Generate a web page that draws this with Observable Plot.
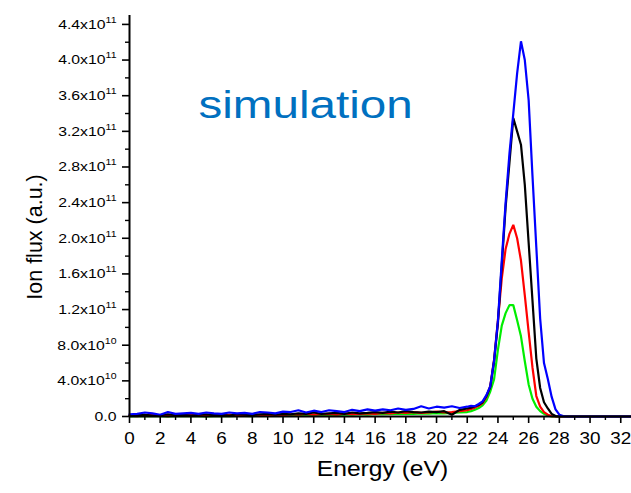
<!DOCTYPE html>
<html><head><meta charset="utf-8">
<script src="https://cdn.jsdelivr.net/npm/d3@7"></script>
<script src="https://cdn.jsdelivr.net/npm/@observablehq/plot@0.6"></script>
<style>
html,body{margin:0;padding:0;background:#fff;}
#chart svg{display:block;}
</style>
</head><body><div id="chart"></div>
<script>
// Energy grid (eV)
const energy = [
  0,0.5,1,1.5,2,2.5,3,3.5,4,4.5,5,5.5,6,6.5,7,7.5,8,8.5,9,9.5,10,10.5,11,11.5,12,12.5,13,13.5,14,14.5,15,15.5,16,16.5,17,17.5,18,18.5,19,19.5,20,20.5,21,21.5,
  22,22.25,22.5,22.75,23,23.25,23.5,23.75,24,24.25,24.5,24.75,25,25.25,25.5,25.75,26,26.25,26.5,26.75,27,27.25,27.5,27.75,28,28.25,28.5,28.75,29,
  29.5,30,30.5,31,31.5,32,32.5,32.7
];
// Ion flux values in units of 1e10 (a.u.)
const fluxBlue = [
  0.25,0.3,0.45,0.35,0.2,0.5,0.3,0.35,0.4,0.3,0.45,0.35,0.3,0.45,0.35,0.4,0.3,0.5,0.45,0.35,0.55,0.5,0.7,0.45,0.65,0.5,0.7,0.6,0.5,0.75,0.6,0.8,0.65,0.8,0.7,0.9,0.75,0.85,1.15,0.9,1.1,1.0,1.15,0.95,
  1.1,1.2,1.15,1.4,1.7,2.4,3.4,6.3,10.8,17.5,24.0,29.5,34.0,38.5,42.1,40.0,35.5,27.0,19.0,11.0,6.0,4.2,2.2,0.8,0.2,0.05,0,0,0,
  0,0,0,0,0,0,0,0
];
const fluxBlack = [
  0.1,0.15,0.2,0.1,0.15,0.25,0.15,0.2,0.1,0.2,0.25,0.15,0.2,0.1,0.25,0.2,0.15,0.25,0.3,0.2,0.3,0.25,0.35,0.3,0.45,0.3,0.35,0.4,0.3,0.45,0.35,0.4,0.5,0.4,0.55,0.45,0.6,0.5,0.45,0.55,0.5,0.6,0.2,0.75,
  0.9,1.0,1.15,1.3,1.6,2.3,3.3,6.2,10.5,17.0,23.5,28.5,33.5,32.0,30.5,26.0,19.5,13.0,6.5,3.2,1.6,0.9,0.3,0.05,0,0,0,0,0,
  0,0,0,0,0,0,0,0
];
const fluxRed = [
  0.1,0.05,0.15,0.25,0.1,0.05,0.15,0.1,0.2,0.1,0.05,0.15,0.1,0.2,0.1,0.15,0.25,0.15,0.1,0.2,0.15,0.25,0.2,0.3,0.2,0.25,0.3,0.2,0.35,0.25,0.3,0.35,0.3,0.4,0.35,0.45,0.4,0.5,0.4,0.45,0.55,0.45,0.5,0.6,
  0.7,0.85,1.0,1.2,1.5,2.2,3.4,6.4,10.8,15.5,18.8,20.5,21.5,20.0,17.5,13.6,9.5,5.5,2.3,1.1,0.5,0.2,0.05,0,0,0,0,0,0,
  0,0,0,0,0,0,0,0
];
const fluxGreen = [
  0.02,0.05,0.03,0.06,0.04,0.02,0.05,0.03,0.06,0.04,0.02,0.05,0.07,0.04,0.06,0.08,0.05,0.1,0.08,0.12,0.1,0.14,0.12,0.15,0.18,0.15,0.2,0.18,0.22,0.2,0.25,0.22,0.28,0.25,0.3,0.28,0.32,0.3,0.35,0.33,0.38,0.35,0.4,0.45,
  0.5,0.6,0.75,0.95,1.25,1.8,2.8,4.2,7.5,10.2,11.6,12.5,12.5,10.8,9.0,6.2,3.6,2.0,1.1,0.6,0.3,0.1,0,0,0,0,0,0,0,
  0,0,0,0,0,0,0,0
];
// drawing order: green, red, black, blue (blue on top)
const seriesNames = ["green","red","black","blue"];
const seriesColors = ["#00ee00","#ff0000","#000000","#0000ff"];
const seriesValues = [fluxGreen, fluxRed, fluxBlack, fluxBlue];

const xMajorTicks = [0,2,4,6,8,10,12,14,16,18,20,22,24,26,28,30,32];
const xMinorTicks = [1,3,5,7,9,11,13,15,17,19,21,23,25,27,29,31];
const yMajorTicks = [0,4e10,8e10,1.2e11,1.6e11,2.0e11,2.4e11,2.8e11,3.2e11,3.6e11,4.0e11,4.4e11];
const yTickMantissa = ["0.0","4.0x10","8.0x10","1.2x10","1.6x10","2.0x10","2.4x10","2.8x10","3.2x10","3.6x10","4.0x10","4.4x10"];
const yTickExponent = ["","10","10","11","11","11","11","11","11","11","11","11"];
const yMinorTicks = [2e10,6e10,1.0e11,1.4e11,1.8e11,2.2e11,2.6e11,3.0e11,3.4e11,3.8e11,4.2e11];

const xLabel = "Energy (eV)";
const yLabel = "Ion flux (a.u.)";
const annotation = "simulation";

const rows = seriesNames.map((s, k) =>
  energy.map((e, i) => ({energy: e, flux: seriesValues[k][i] * 1e10, series: s})));

const font = "'Liberation Sans', Arial, sans-serif";

const plot = Plot.plot({
  width: 631,
  height: 493,
  marginLeft: 129,
  marginRight: 0,
  marginTop: 15,
  marginBottom: 77,
  style: {fontFamily: font, background: "transparent", color: "#000"},
  x: {domain: [0, 32.7], label: null},
  y: {domain: [0, 4.5e11], label: null},
  marks: [
    ...rows.map((r, k) => Plot.line(r, {x: "energy", y: "flux", stroke: seriesColors[k], strokeWidth: 2.2, strokeLinejoin: "miter"})),
    Plot.ruleX([0], {stroke: "#000", strokeWidth: 2}),
    Plot.ruleY([0], {stroke: "#000", strokeWidth: 2}),
    Plot.axisX({ticks: xMajorTicks, tickSize: 7, tickPadding: 9, fontSize: 16, strokeWidth: 1.6, label: null, tickFormat: d => String(d)}),
    Plot.axisX({ticks: xMinorTicks, tickSize: 4, strokeWidth: 1.4, label: null, tickFormat: () => ""}),
    Plot.axisY({ticks: yMajorTicks, tickSize: 7, tickPadding: 6, fontSize: 13.5, strokeWidth: 1.6, label: null,
      tickFormat: d => { const i = yMajorTicks.indexOf(d); return yTickMantissa[i] + "|" + yTickExponent[i]; }}),
    Plot.axisY({ticks: yMinorTicks, tickSize: 4, strokeWidth: 1.4, label: null, tickFormat: () => ""}),
    Plot.text([yLabel], {frameAnchor: "left", rotate: -90, dx: -94, dy: 21, fontSize: 21.5, fill: "#000", textAnchor: "middle"}),
    Plot.text([xLabel], {frameAnchor: "bottom", dx: 2, dy: 59, fontSize: 22, fill: "#000", textAnchor: "middle"}),
    Plot.text([annotation], {frameAnchor: "top-left", dx: 69, dy: 75, fontSize: 39, fill: "#0070c0", textAnchor: "start"})
  ]
});

document.getElementById("chart").appendChild(plot);

// superscripts on y tick labels
plot.querySelectorAll('g[aria-label="y-axis tick label"] text').forEach(t => {
  const s = t.textContent;
  if (s.indexOf("|") < 0) return;
  const [m, e] = s.split("|");
  t.textContent = m;
  if (e) {
    const ts = document.createElementNS("http://www.w3.org/2000/svg", "tspan");
    ts.setAttribute("dy", "-6");
    ts.setAttribute("font-size", "9");
    ts.textContent = e;
    t.appendChild(ts);
  }
});

// horizontal stretch of text glyphs around their anchor
function stretchEl(t, s) {
  const x = +(t.getAttribute("x") || 0);
  const tr = t.getAttribute("transform") || "";
  t.setAttribute("transform", `${tr} translate(${x},0) scale(${s},1) translate(${-x},0)`);
}
plot.querySelectorAll('g[aria-label="y-axis tick label"] text').forEach(t => stretchEl(t, 1.17));
plot.querySelectorAll('g[aria-label="x-axis tick label"] text').forEach(t => stretchEl(t, 1.18));
plot.querySelectorAll('text').forEach(t => {
  if (t.textContent === xLabel) stretchEl(t, 1.12);
  if (t.textContent === annotation) stretchEl(t, 1.22);
});
</script>
</body></html>
